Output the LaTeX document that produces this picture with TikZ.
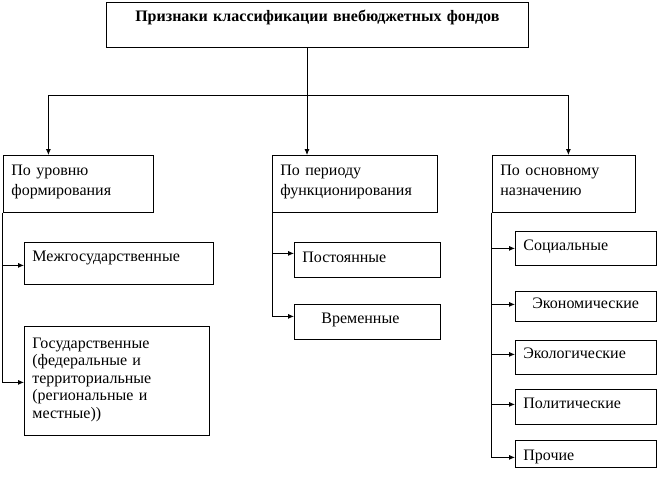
\documentclass[tikz,border=0pt]{standalone}
\usepackage{fontspec}
\setmainfont{Liberation Serif}
\usetikzlibrary{arrows.meta}

\begin{document}
\begin{tikzpicture}[
    x=1pt, y=-1pt, line width=0.8pt,
    font=\fontsize{16}{17.5}\selectfont,
    box/.style={rectangle, draw, anchor=north west, align=left, inner xsep=8pt, inner ysep=0pt},
    head/.style={box, align=center, font=\fontsize{16}{18}\selectfont\bfseries},
    crit/.style={box, text width=#1, text height=20pt, text depth=37pt, font=\fontsize{16}{20}\selectfont},
    leaf/.style={box, text width=125pt},
    arrow/.style={-{Latex[length=6pt,width=5pt]}}
]
\useasboundingbox (0,0) rectangle (659,477);

% Header
\node[head, text width=406pt, text height=19pt, text depth=26pt] (title) at (106,2) {Признаки классификации внебюджетных фондов};

% Classification criteria
\node[crit=134pt] (level) at (3,155) {По уровню\\формирования};
\node[crit=149pt] (period) at (272,155) {По периоду\\функционирования};
\node[crit=127pt] (purpose) at (492,155) {По основному\\назначению};

% By level
\node[box, text width=173pt, text height=19pt, text depth=23pt] (inter) at (24,242) {Межгосударственные};
\node[box, text width=169pt, text height=22pt, text depth=87pt] (state) at (24,326) {Государственные\\(федеральные и\\территориальные\\(региональные и\\местные))};

% By period
\node[box, text width=130pt, text height=20pt, text depth=15pt] (const) at (294,242) {Постоянные};
\node[box, text width=130pt, text height=19pt, text depth=16pt] (temp) at (294,304) {\hspace*{19pt}Временные};

% By purpose
\node[leaf, text height=19pt, text depth=15pt] (social) at (515,231) {Социальные};
\node[leaf, text height=17pt, text depth=13pt] (econ) at (515,291) {\hspace*{9pt}Экономические};
\node[leaf, text height=18pt, text depth=16pt] (ecol) at (515,340) {Экологические};
\node[leaf, text height=19pt, text depth=16pt] (polit) at (515,389) {Политические};
\node[leaf, text height=20pt, text depth=7pt] (other) at (515,440) {Прочие};

% Arrows
\coordinate (hub) at (307,95);
\draw (title.south -| hub) -- (hub);
\draw[arrow] (hub) -| ([xshift=-30pt]level.north);
\draw[arrow] (hub) -- (hub |- period.north);
\draw[arrow] (hub) -| ([xshift=4.5pt]purpose.north);

\draw[arrow] ([xshift=-1pt]level.south west) |- ([yshift=-2pt]inter.west);
\draw[arrow] ([xshift=-1pt]level.south west) |- ([yshift=-1.5pt]state.west);

\draw[arrow] (period.south west) |- ([yshift=6.5pt]const.west);
\draw[arrow] (period.south west) |- ([yshift=5.5pt]temp.west);

\draw[arrow] ([xshift=-1pt]purpose.south west) |- (social.west);
\draw[arrow] ([xshift=-1pt]purpose.south west) |- ([yshift=2pt]econ.west);
\draw[arrow] ([xshift=-1pt]purpose.south west) |- ([yshift=3pt]ecol.west);
\draw[arrow] ([xshift=-1pt]purpose.south west) |- ([yshift=2.5pt]polit.west);
\draw[arrow] ([xshift=-1pt]purpose.south west) |- ([yshift=-3.5pt]other.west);

\end{tikzpicture}
\end{document}
